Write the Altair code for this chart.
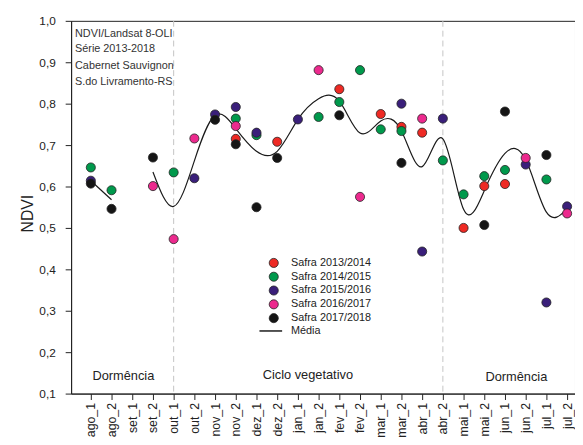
import altair as alt
import pandas as pd

categorias = ["ago_1", "ago_2", "set_1", "set_2", "out_1", "out_2", "nov_1", "nov_2",
              "dez_1", "dez_2", "jan_1", "jan_2", "fev_1", "fev_2", "mar_1", "mar_2",
              "abr_1", "abr_2", "mai_1", "mai_2", "jun_1", "jun_2", "jul_1", "jul_2"]

N = None
safra_2013_2014 = [N, N, N, N, N, N, N, 0.715, N, 0.708, N, N, 0.835, N, 0.775, 0.744, 0.730, N, 0.500, 0.601, 0.606, N, N, N]
safra_2014_2015 = [0.646, 0.591, N, N, 0.634, N, N, 0.764, 0.724, N, N, 0.768, 0.804, 0.881, 0.738, 0.734, N, 0.663, 0.581, 0.625, 0.640, N, 0.617, N]
safra_2015_2016 = [0.614, N, N, N, N, 0.620, 0.774, 0.792, 0.730, N, 0.762, N, N, N, N, 0.800, 0.443, 0.764, N, N, N, 0.653, 0.320, 0.552]
safra_2016_2017 = [N, N, N, 0.601, 0.473, 0.716, N, 0.746, N, N, N, 0.881, N, 0.575, N, N, 0.764, N, N, N, N, 0.669, N, 0.535]
safra_2017_2018 = [0.607, 0.546, N, 0.670, N, N, 0.761, 0.702, 0.550, 0.669, N, N, 0.772, N, N, 0.657, N, N, N, 0.507, 0.781, N, 0.676, N]
media = [0.614, 0.568, N, 0.635, 0.552, 0.662, 0.772, 0.740, 0.685, 0.685, 0.762, 0.812,
         0.806, 0.729, 0.758, 0.734, 0.648, 0.715, 0.545, 0.590, 0.680, 0.665, 0.538, 0.546]

safras = ["Safra 2013/2014", "Safra 2014/2015", "Safra 2015/2016", "Safra 2016/2017", "Safra 2017/2018"]
cores = ["#EE2A24", "#00994C", "#3A1F7A", "#EC2A8E", "#151515"]
series = [safra_2013_2014, safra_2014_2015, safra_2015_2016, safra_2016_2017, safra_2017_2018]

info_texto = ["NDVI/Landsat 8-OLI", "Série 2013-2018", "Cabernet Sauvignon", "S.do Livramento-RS"]
fases = ["Dormência", "Ciclo vegetativo", "Dormência"]
limites_fase = ["out_1", "abr_2"]

# long table of points
rows = []
for k, (nome, vals) in enumerate(zip(safras, series)):
    for i, v in enumerate(vals):
        if v is not None:
            rows.append({"idx": i, "cat": categorias[i], "ndvi": v, "safra": nome, "ordem": k})
pts = pd.DataFrame(rows)

# mean line, split into segments at gaps
mrows = []
seg = 0
prev_none = False
for i, v in enumerate(media):
    if v is None:
        if not prev_none:
            seg += 1
        prev_none = True
        continue
    prev_none = False
    mrows.append({"idx": i, "ndvi": v, "seg": seg, "serie": "Média"})
med = pd.DataFrame(mrows)

FONT = "Liberation Sans"
label_expr = "[" + ",".join("'" + c + "'" for c in categorias) + "][datum.value]"

x_scale = alt.Scale(domain=[-0.952, 23.381], nice=False, zero=False)
y_scale = alt.Scale(domain=[0.1, 1.0], nice=False, zero=False)

x_axis = alt.Axis(values=list(range(len(categorias))), labelExpr=label_expr,
                  title=None, grid=False, labelAngle=-90, labelFontSize=12.5,
                  labelPadding=3, tickSize=6, labelFlush=False, labelOverlap=False,
                  labelBound=False)
y_axis = alt.Axis(values=[round(v / 10, 1) for v in range(1, 11)],
                  labelExpr="replace(format(datum.value, '.1f'), '.', ',')",
                  title="NDVI", titleFontSize=16, titleFontWeight="normal",
                  titleX=-44, titleY=195, titleAngle=-90, titleBaseline="middle",
                  titleAlign="center",
                  grid=False, tickSize=6, labelPadding=10, labelFontSize=12)

def X():
    return alt.X("idx:Q", scale=x_scale, axis=x_axis)

def Y():
    return alt.Y("ndvi:Q", scale=y_scale, axis=y_axis)

lim_df = pd.DataFrame({"idx": [categorias.index(c) for c in limites_fase]})
rules = alt.Chart(lim_df).mark_rule(color="#c4c4c4", strokeDash=[6, 4], strokeWidth=1).encode(x=X())

linha = alt.Chart(med).mark_line(interpolate="natural", strokeWidth=1.2).encode(
    x=X(), y=Y(), detail="seg:N",
    stroke=alt.Stroke("serie:N", scale=alt.Scale(domain=["Média"], range=["#1a1a1a"]),
                      legend=alt.Legend(title=None, orient="none", legendX=190, legendY=302,
                                        symbolType="stroke", symbolSize=529, symbolStrokeWidth=1.5,
                                        labelFontSize=11, labelOffset=8, padding=0, labelColor="#222")))

pontos = alt.Chart(pts).mark_circle(size=85, opacity=1, stroke="#222", strokeWidth=0.8).encode(
    x=X(), y=Y(),
    fill=alt.Fill("safra:N", scale=alt.Scale(domain=safras, range=cores),
                  legend=alt.Legend(title=None, orient="none", legendX=200, legendY=240,
                                    symbolType="circle", symbolSize=85, symbolStrokeColor="#222",
                                    symbolStrokeWidth=0.8, symbolOpacity=1, labelFontSize=11,
                                    labelOffset=12, rowPadding=1, padding=0, labelColor="#222")),
    order=alt.Order("ordem:Q"))

info_df = pd.DataFrame({"t": info_texto, "idx": [-0.762] * 4, "ndvi": [0.969, 0.931, 0.890, 0.852]})
info = alt.Chart(info_df).mark_text(align="left", baseline="middle", fontSize=11, color="#333", font=FONT).encode(
    x=X(), y=Y(), text="t:N")

fase_df = pd.DataFrame({"t": fases, "idx": [1.57, 10.48, 20.55], "ndvi": [0.142, 0.144, 0.140]})
fase = alt.Chart(fase_df).mark_text(align="center", baseline="middle", fontSize=13, color="#222", font=FONT).encode(
    x=X(), y=Y(), text="t:N")

chart = alt.layer(rules, linha, pontos, info, fase).resolve_legend(fill="independent", stroke="independent").properties(
    width=511, height=378,
    autosize=alt.AutoSizeParams(type="none"),
    padding={"left": 64, "top": 10, "right": 0, "bottom": 41},
).configure(font=FONT).configure_view(stroke="#222", strokeWidth=1).configure_axis(
    domainColor="#222", tickColor="#222", labelColor="#222", titleColor="#222",
    labelFont=FONT, titleFont=FONT)

chart.save("out.html", embed_options={"renderer": "svg", "actions": False})
